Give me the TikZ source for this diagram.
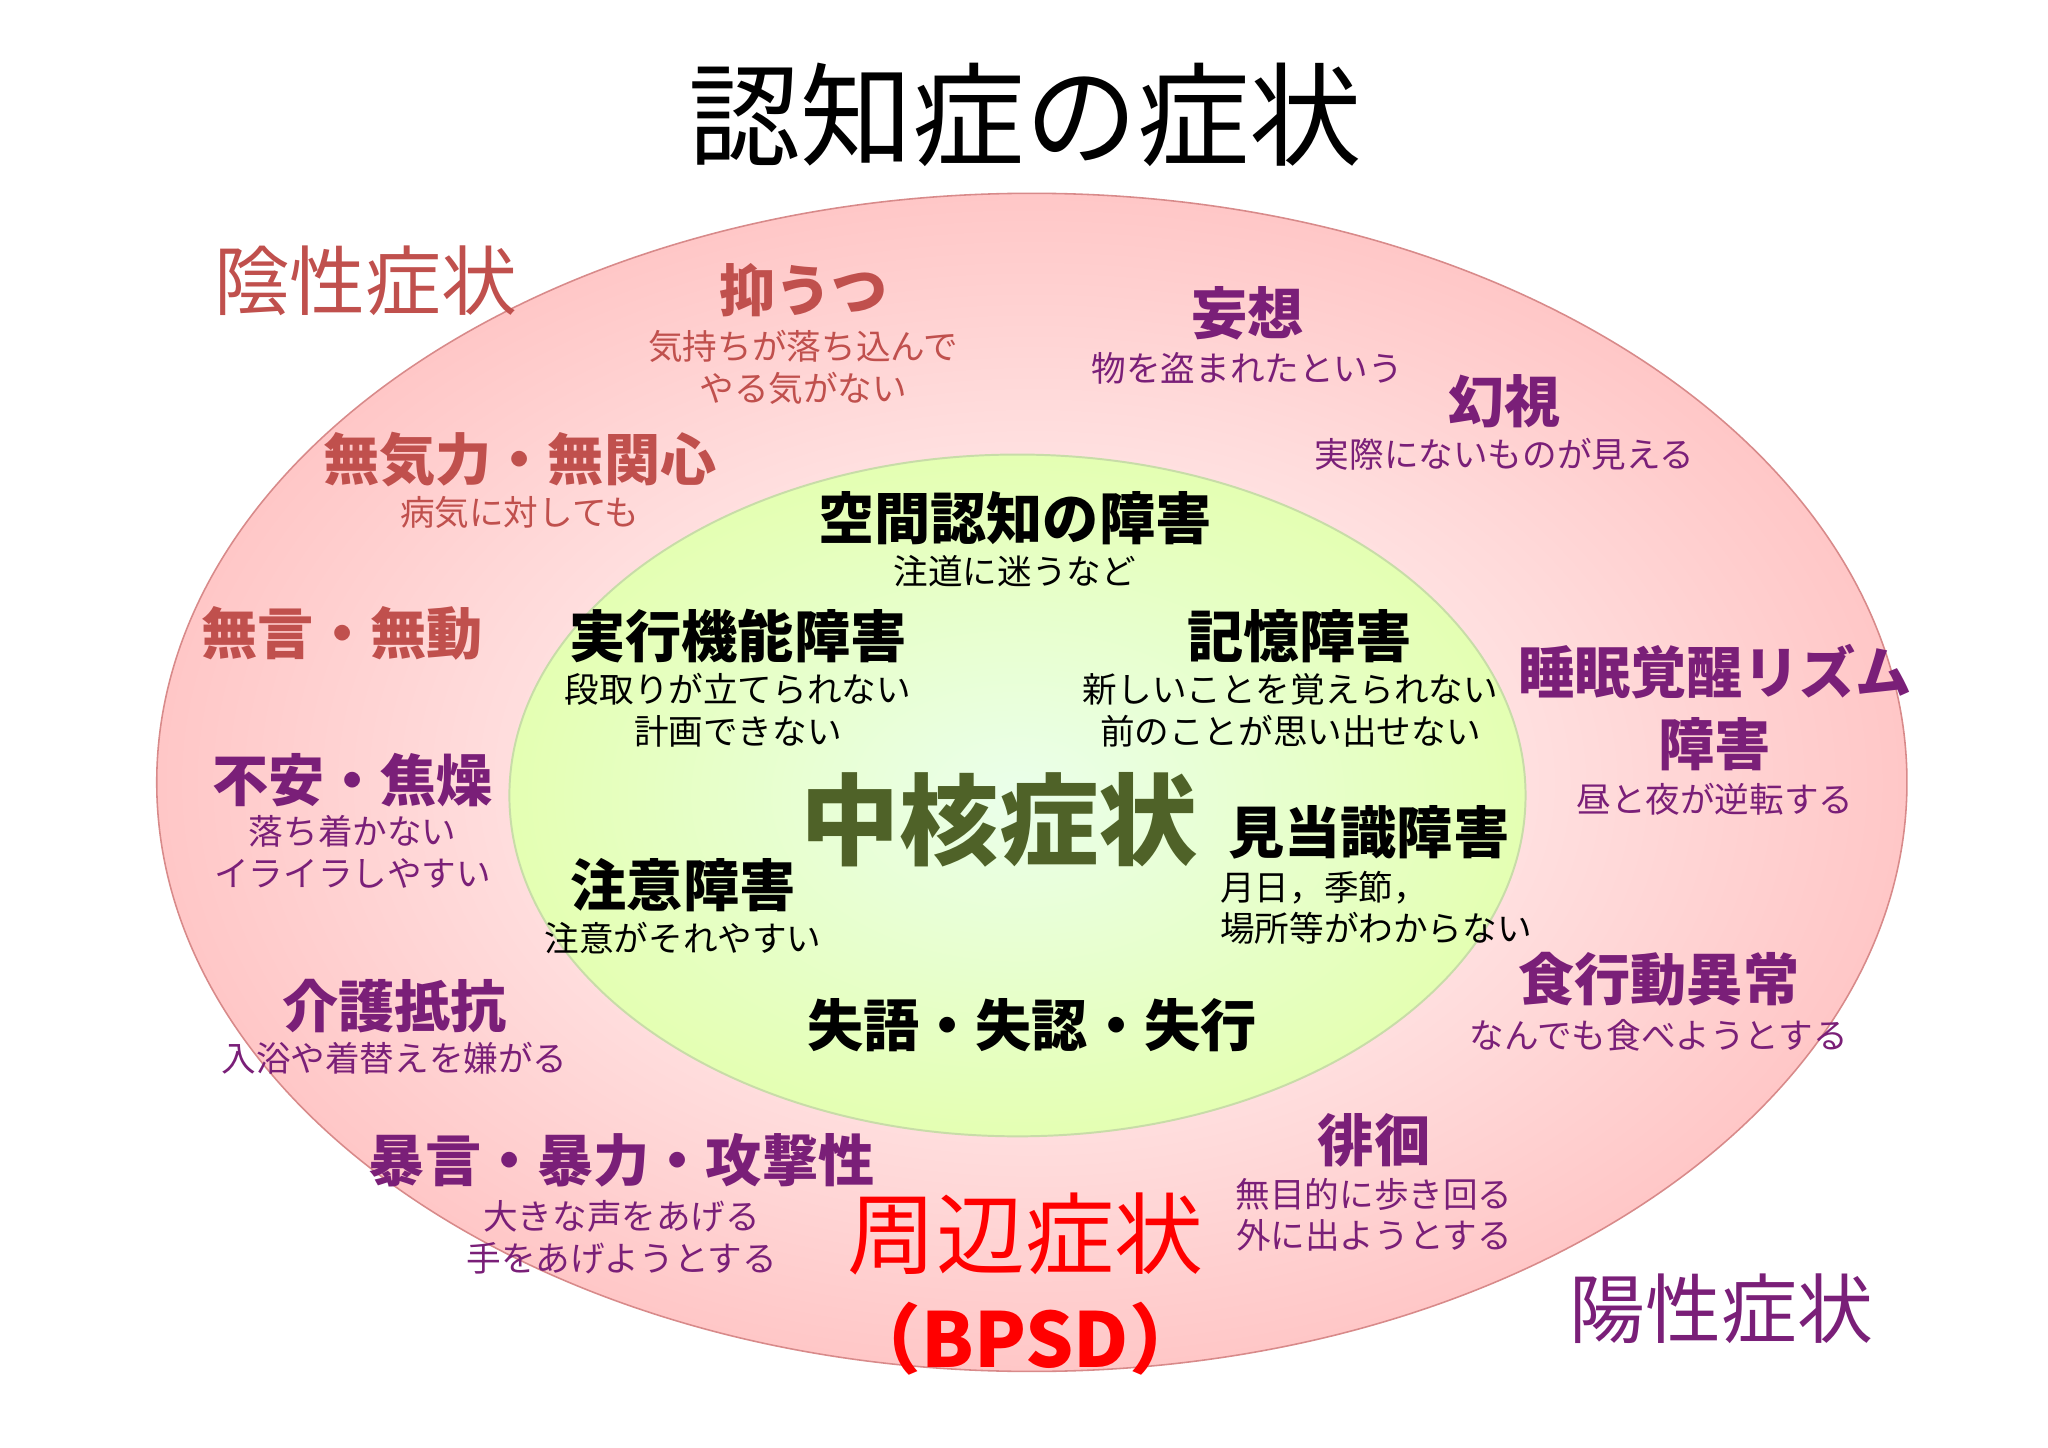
\documentclass[tikz,border=0pt]{standalone}
\usepackage{fontspec}
\setmainfont{Noto Sans CJK JP}
\definecolor{negc}{HTML}{C0504D}
\definecolor{posc}{HTML}{7A1F78}
\definecolor{corec}{HTML}{4F6228}
\definecolor{outerb}{HTML}{D88A8A}
\definecolor{innerb}{HTML}{C8DCA8}
\tikzset{
 big/.style={font=\fontsize{43}{46}\selectfont\bfseries, inner sep=0},
 sm/.style={font=\fontsize{26.5}{32}\selectfont, inner sep=0},
 hd/.style={font=\fontsize{58}{60}\selectfont, inner sep=0},
}
\begin{document}
\begin{tikzpicture}[x=1pt,y=-1pt]
\useasboundingbox (0,0) rectangle (1568,1108);
\fill[white] (0,0) rectangle (1568,1108);
\shade[inner color=white, outer color=red!22] (790,599) ellipse [x radius=670, y radius=451];
\draw[outerb, line width=1.2pt] (790,599) ellipse [x radius=670, y radius=451];
\shade[inner color=green!8!white, outer color=green!35!yellow!30!white] (779,609) ellipse [x radius=389, y radius=261];
\draw[innerb, line width=1.5pt] (779,609) ellipse [x radius=389, y radius=261];

\node[font=\fontsize{86}{88}\selectfont, inner sep=0] (title) at (785,88) {認知症の症状};
\node[hd, negc] (neg) at (280,215) {陰性症状};
\node[hd, posc] (pos) at (1318,1002) {陽性症状};

\node[big, negc] (a1) at (615,222) {抑うつ};
\node[sm, negc, align=center] (a1s) at (615,281) {気持ちが落ち込んで\\やる気がない};
\node[big, posc] (a2) at (955,240) {妄想};
\node[sm, posc] (a2s) at (955,282) {物を盗まれたという};
\node[big, posc] (a3) at (1152,307) {幻視};
\node[sm, posc] (a3s) at (1152,348) {実際にないものが見える};
\node[big, negc] (a4) at (398,352) {無気力・無関心};
\node[sm, negc] (a4s) at (398,392) {病気に対しても};
\node[big] (b1) at (777,397) {空間認知の障害};
\node[sm] (b1s) at (777,437) {注道に迷うなど};
\node[big, negc] (a5) at (262,485) {無言・無動};
\node[big] (b2) at (565,487) {実行機能障害};
\node[sm, align=center] (b2s) at (565,544) {段取りが立てられない\\計画できない};
\node[big] (b3) at (995,487) {記憶障害};
\node[sm, align=center] (b3s) at (988,544) {新しいことを覚えられない\\前のことが思い出せない};
\node[big, posc, align=center, font=\fontsize{43}{55}\selectfont\bfseries] (a6) at (1313,542) {睡眠覚醒リズム\\障害};
\node[sm, posc] (a6s) at (1313,612) {昼と夜が逆転する};
\node[big, posc] (a7) at (270,597) {不安・焦燥};
\node[sm, posc, align=center] (a7s) at (270,652) {落ち着かない\\イライラしやすい};
\node[inner sep=0, corec, font=\fontsize{76}{80}\selectfont\bfseries] (core) at (765,628) {中核症状};
\node[big] (b4) at (1048,637) {見当識障害};
\node[sm, align=left, anchor=west] (b4s) at (934,695) {月日，季節，\\場所等がわからない};
\node[big] (b5) at (523,678) {注意障害};
\node[sm] (b5s) at (523,718) {注意がそれやすい};
\node[big, posc] (a8) at (302,770) {介護抵抗};
\node[sm, posc] (a8s) at (302,810) {入浴や着替えを嫌がる};
\node[big, posc] (a9) at (1270,750) {食行動異常};
\node[sm, posc] (a9s) at (1270,793) {なんでも食べようとする};
\node[big] (b6) at (790,785) {失語・失認・失行};
\node[big, posc] (a10) at (1052,873) {徘徊};
\node[sm, posc, align=center] (a10s) at (1052,930) {無目的に歩き回る\\外に出ようとする};
\node[big, posc] (a11) at (476,888) {暴言・暴力・攻撃性};
\node[sm, posc, align=center] (a11s) at (476,947) {大きな声をあげる\\手をあげようとする};
\node[inner sep=0, red, font=\fontsize{68}{70}\selectfont] (per) at (785,945) {周辺症状};
\node[inner sep=0, red, font=\fontsize{58}{60}\selectfont\bfseries] (bpsd) at (785,1025) {（BPSD）};
\end{tikzpicture}
\end{document}
